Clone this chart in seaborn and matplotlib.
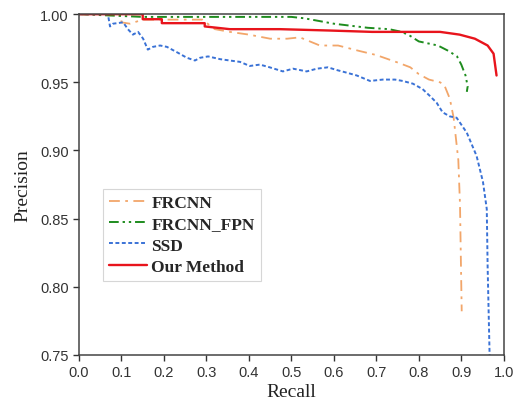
import numpy as np
import pandas as pd
import matplotlib
matplotlib.use("Agg")
import matplotlib.pyplot as plt
import seaborn as sns

# values
frcnn_recall = [0.0, 0.10, 0.10, 0.12, 0.15, 0.29, 0.32, 0.355, 0.40, 0.45, 0.49, 0.52,
                0.567, 0.61, 0.66, 0.70, 0.755, 0.78, 0.80, 0.824, 0.85, 0.86, 0.873,
                0.882, 0.893, 0.897, 0.899, 0.901]
frcnn_prec = [1.0, 1.0, 0.994, 0.993, 0.996, 0.996, 0.989, 0.987, 0.985, 0.982, 0.982, 0.983,
              0.977, 0.977, 0.973, 0.970, 0.964, 0.961, 0.956, 0.952, 0.950, 0.948, 0.938,
              0.924, 0.893, 0.860, 0.820, 0.782]

fpn_recall = [0.0, 0.15, 0.30, 0.50, 0.53, 0.60, 0.68, 0.73, 0.76, 0.78, 0.80, 0.845,
              0.87, 0.89, 0.90, 0.91, 0.915, 0.913]
fpn_prec = [1.0, 0.998, 0.998, 0.998, 0.997, 0.993, 0.990, 0.989, 0.987, 0.984, 0.980, 0.977,
            0.973, 0.969, 0.963, 0.955, 0.947, 0.943]

ssd_recall = [0.0, 0.068, 0.073, 0.08, 0.104, 0.115, 0.127, 0.139, 0.151, 0.162, 0.174, 0.191,
              0.207, 0.231, 0.254, 0.273, 0.285, 0.304, 0.332, 0.355, 0.379, 0.402, 0.426,
              0.449, 0.48, 0.504, 0.536, 0.56, 0.586, 0.607, 0.631, 0.654, 0.685, 0.715,
              0.744, 0.762, 0.786, 0.809, 0.826, 0.842, 0.856, 0.873, 0.889, 0.913, 0.936,
              0.951, 0.96, 0.962, 0.967]
ssd_prec = [1.0, 1.0, 0.991, 0.993, 0.994, 0.989, 0.985, 0.987, 0.982, 0.974, 0.976, 0.977,
            0.976, 0.972, 0.968, 0.966, 0.968, 0.969, 0.967, 0.966, 0.965, 0.962, 0.963,
            0.961, 0.958, 0.960, 0.958, 0.960, 0.961, 0.959, 0.957, 0.955, 0.951, 0.952,
            0.952, 0.951, 0.949, 0.945, 0.940, 0.935, 0.928, 0.925, 0.924, 0.913, 0.896,
            0.877, 0.857, 0.815, 0.745]

ours_recall = [0.0, 0.15, 0.15, 0.195, 0.195, 0.296, 0.296, 0.355, 0.473, 0.59, 0.69, 0.78,
               0.85, 0.896, 0.932, 0.962, 0.976, 0.983]
ours_prec = [1.0, 1.0, 0.9963, 0.9963, 0.9934, 0.9934, 0.991, 0.989, 0.989, 0.988, 0.987, 0.987,
             0.987, 0.985, 0.982, 0.977, 0.971, 0.955]

sns.set_style("ticks")
serif = ["Liberation Serif", "DejaVu Serif"]
plt.rcParams["font.family"] = ["Liberation Sans", "DejaVu Sans"]

fig = plt.figure(figsize=(5.13, 4.10), dpi=100)
ax = fig.add_axes([0.154, 0.132, 0.828, 0.831])

series = [
    ("FRCNN", frcnn_recall, frcnn_prec, "#f2a66a", (0, (6, 3, 1.5, 3)), 1.3),
    ("FRCNN_FPN", fpn_recall, fpn_prec, "#1e8c1e", (0, (5, 2, 1.2, 2, 1.2, 2)), 1.4),
    ("SSD", ssd_recall, ssd_prec, "#3a72d6", (0, (2, 1.3)), 1.4),
    ("Our Method", ours_recall, ours_prec, "#e8141c", "-", 1.7),
]
for name, r, p, c, ls, lw in series:
    df = pd.DataFrame({"Recall": r, "Precision": p})
    sns.lineplot(data=df, x="Recall", y="Precision", ax=ax, sort=False, estimator=None,
                 color=c, linestyle=ls, linewidth=lw, label=name)

ax.set_xlim(0, 1.0)
ax.set_ylim(0.75, 1.0)
ax.set_xticks(np.arange(0, 1.01, 0.1))
ax.set_yticks(np.arange(0.75, 1.001, 0.05))
ax.xaxis.set_major_formatter(matplotlib.ticker.FormatStrFormatter("%.1f"))
ax.yaxis.set_major_formatter(matplotlib.ticker.FormatStrFormatter("%.2f"))
ax.tick_params(axis="both", labelsize=10.5, colors="#333333", length=4, width=1,
               direction="out")
for s in ax.spines.values():
    s.set_color("#444444")
    s.set_linewidth(1.1)

ax.set_xlabel("Recall", fontsize=14, family=serif, color="#222222", labelpad=3)
ax.set_ylabel("Precision", fontsize=14, family=serif, color="#222222", labelpad=6)

leg = ax.legend(loc="lower left", bbox_to_anchor=(0.056, 0.217), borderaxespad=0,
                frameon=True, prop={"family": serif, "weight": "bold", "size": 12.5},
                handlelength=2.2, handletextpad=0.25, labelspacing=0.3,
                borderpad=0.35, fancybox=False)
leg.get_frame().set_edgecolor("#cccccc")
leg.get_frame().set_linewidth(0.8)

fig.savefig("out.png", dpi=100)
